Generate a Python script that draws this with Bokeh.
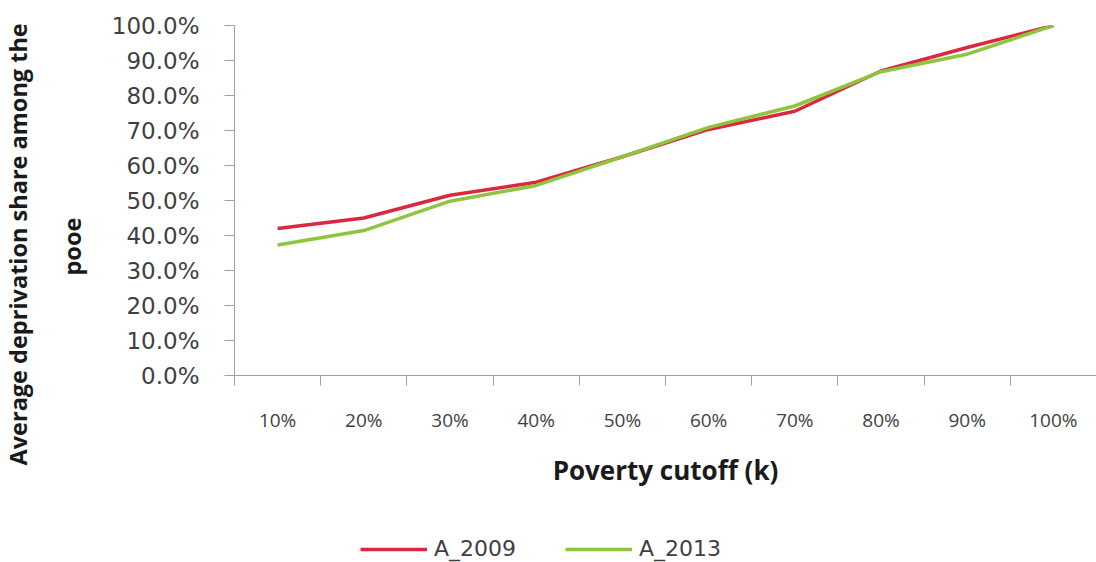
from bokeh.plotting import figure
from bokeh.layouts import column
from bokeh.models import (FactorRange, Range1d, LinearAxis, CategoricalAxis, FixedTicker,
                          NumeralTickFormatter, Legend, LegendItem, Title)
from bokeh.embed import file_html
from bokeh.resources import INLINE

# ---- data ----
cutoffs = ["10%", "20%", "30%", "40%", "50%", "60%", "70%", "80%", "90%", "100%"]
a_2009 = [0.420, 0.450, 0.515, 0.552, 0.625, 0.703, 0.755, 0.870, 0.937, 1.000]
a_2013 = [0.373, 0.414, 0.498, 0.543, 0.625, 0.709, 0.770, 0.868, 0.918, 1.000]
y_ticks = [0.0, 0.1, 0.2, 0.3, 0.4, 0.5, 0.6, 0.7, 0.8, 0.9, 1.0]
series_names = ["A_2009", "A_2013"]
y_title_lines = ["Average deprivation share among the", "pooe"]
x_title = "Poverty cutoff (k)"
category_edges = list(range(0, len(cutoffs) + 1))

AXIS_COLOR = "#a59ca4"
TEXT_COLOR = "#3f3f3f"
TITLE_COLOR = "#1a1a1a"
RED = "#d9283f"
GREEN = "#8fc43e"
COLORS = [RED, GREEN]

W, H = 1096, 562
LEG_H = 40

p = figure(width=W, height=H - LEG_H,
           x_range=FactorRange(*cutoffs),
           y_range=Range1d(0, 1.0),
           x_axis_location=None,
           output_backend="svg", toolbar_location=None,
           min_border_left=233, min_border_right=0,
           min_border_top=25, min_border_bottom=H - LEG_H - 375)
p.outline_line_color = None
p.xgrid.visible = False
p.ygrid.visible = False

# y axis
p.yaxis.ticker = FixedTicker(ticks=y_ticks)
p.yaxis.formatter = NumeralTickFormatter(format="0.0%")
p.yaxis.axis_line_color = AXIS_COLOR
p.yaxis.major_tick_line_color = AXIS_COLOR
p.yaxis.major_tick_out = 10
p.yaxis.major_tick_in = 0
p.yaxis.minor_tick_line_color = None
p.yaxis.major_label_standoff = 25
p.yaxis.major_label_text_font = "DejaVu Sans"
p.yaxis.major_label_text_font_size = "23px"
p.yaxis.major_label_text_color = TEXT_COLOR

# y axis title: two rotated lines on the left
t_pooe = Title(text=y_title_lines[1], align="left", offset=100, vertical_align="top",
               standoff=38, text_font="Open Sans", text_font_style="bold",
               text_font_size="23.5px", text_color=TITLE_COLOR)
t_main = Title(text=y_title_lines[0], align="left", offset=-90, vertical_align="top",
               standoff=2, text_font="Open Sans", text_font_style="bold",
               text_font_size="23.5px", text_color=TITLE_COLOR)
p.add_layout(t_pooe, "left")
p.add_layout(t_main, "left")

# x axis: line + ticks at category boundaries (no labels drawn)
tick_axis = LinearAxis(ticker=FixedTicker(ticks=category_edges))
tick_axis.axis_line_color = AXIS_COLOR
tick_axis.major_tick_line_color = AXIS_COLOR
tick_axis.major_tick_out = 10
tick_axis.major_tick_in = 0
tick_axis.minor_tick_line_color = None
tick_axis.major_label_text_font_size = "0px"
tick_axis.major_label_text_color = None
tick_axis.major_label_standoff = 0
p.add_layout(tick_axis, "below")

# x axis: category labels + title
cat_axis = CategoricalAxis()
cat_axis.axis_line_color = None
cat_axis.major_tick_line_color = None
cat_axis.minor_tick_line_color = None
cat_axis.major_label_standoff = 15
cat_axis.major_label_text_font = "Open Sans"
cat_axis.major_label_text_font_size = "19px"
cat_axis.major_label_text_color = TEXT_COLOR
cat_axis.axis_label = x_title
cat_axis.axis_label_text_font = "Open Sans"
cat_axis.axis_label_text_font_style = "bold"
cat_axis.axis_label_text_font_size = "26px"
cat_axis.axis_label_text_color = TITLE_COLOR
cat_axis.axis_label_standoff = 16
p.add_layout(cat_axis, "below")

# lines
for vals, col in zip((a_2009, a_2013), COLORS):
    p.line(cutoffs, vals, line_color=col, line_width=3.5)

# ---- legend strip below the chart (its own small figure) ----
lf = figure(width=W, height=LEG_H, x_range=p.x_range, y_range=Range1d(10, 11),
            x_axis_location=None, y_axis_location=None,
            output_backend="svg", toolbar_location=None,
            min_border_left=233, min_border_right=0, min_border_top=0, min_border_bottom=0)
lf.outline_line_color = None
lf.xgrid.visible = False
lf.ygrid.visible = False
items = []
for name, vals, col in zip(series_names, (a_2009, a_2013), COLORS):
    r = lf.line(cutoffs, vals, line_color=col, line_width=3.5)  # outside the strip's view
    items.append(LegendItem(label=name, renderers=[r]))
lg = Legend(items=items, location=(126, 1), orientation="horizontal")
lg.border_line_color = None
lg.background_fill_alpha = 0
lg.padding = 0
lg.margin = 0
lg.glyph_width = 67
lg.glyph_height = 20
lg.label_standoff = 7
lg.spacing = 49
lg.label_text_font = "DejaVu Sans"
lg.label_text_font_size = "22px"
lg.label_text_color = TEXT_COLOR
lf.add_layout(lg)

layout = column(p, lf, spacing=0)
open("out.html", "w").write(file_html(layout, INLINE))
